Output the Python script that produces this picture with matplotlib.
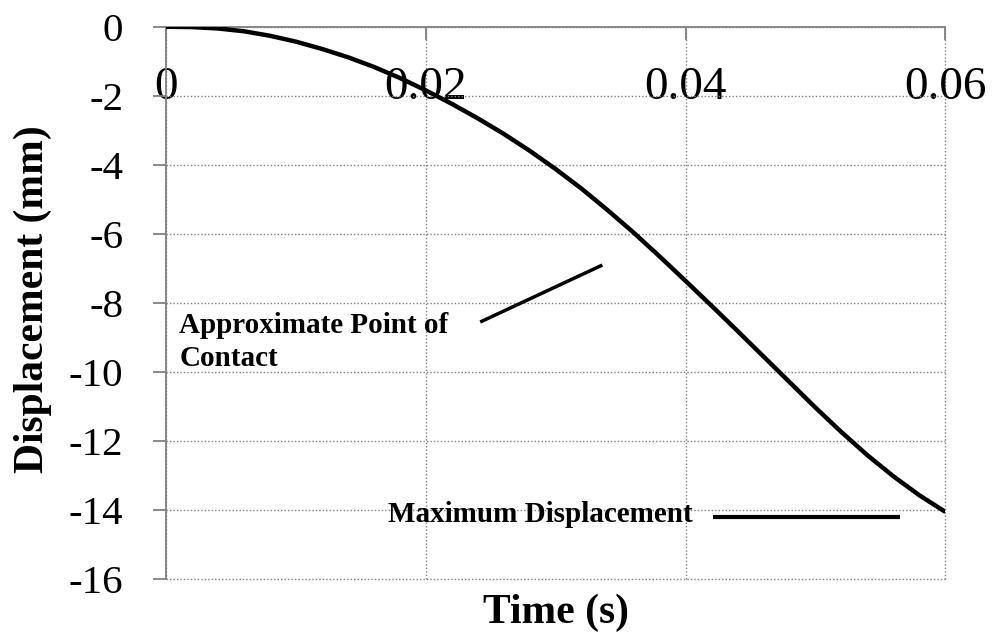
import matplotlib
matplotlib.use('Agg')
import matplotlib.pyplot as plt

# ---- data ----
time_s = [0.000, 0.002, 0.004, 0.006, 0.008, 0.010, 0.012, 0.014, 0.016, 0.018,
          0.020, 0.022, 0.024, 0.026, 0.028, 0.030, 0.032, 0.034, 0.036, 0.038,
          0.040, 0.042, 0.044, 0.046, 0.048, 0.050, 0.052, 0.054, 0.056, 0.058,
          0.060]
disp_mm = [0.00, -0.01, -0.05, -0.13, -0.26, -0.43, -0.64, -0.88, -1.16, -1.48,
           -1.84, -2.23, -2.65, -3.10, -3.59, -4.12, -4.69, -5.31, -5.96, -6.65,
           -7.36, -8.08, -8.81, -9.55, -10.29, -11.03, -11.74, -12.41, -13.02, -13.57,
           -14.05]

x_ticks = [0, 0.02, 0.04, 0.06]
x_tick_labels = ['0', '0.02', '0.04', '0.06']
y_ticks = [-16, -14, -12, -10, -8, -6, -4, -2, 0]
y_tick_labels = ['-16', '-14', '-12', '-10', '-8', '-6', '-4', '-2', '0']

contact_label = 'Approximate Point of\nContact'
contact_line_x = [0.0242, 0.0336]
contact_line_y = [-8.55, -6.90]
contact_text_xy = (0.00105, -8.25)

max_label = 'Maximum Displacement'
max_line_x = [0.0421, 0.0565]
max_line_y = [-14.21, -14.21]
max_text_xy = (0.0171, -14.12)

x_label = 'Time (s)'
y_label = 'Displacement (mm)'

# ---- figure ----
plt.rcParams['font.family'] = ['Liberation Serif', 'DejaVu Serif']
fig = plt.figure(figsize=(9.94, 6.35), dpi=100)
ax = fig.add_axes([0.1667, 0.0877, 0.7845, 0.8702])

gray = '#808080'
ax.plot(time_s, disp_mm, color='black', lw=3.2, solid_capstyle='butt',
        solid_joinstyle='round', zorder=3)

ax.plot(contact_line_x, contact_line_y, color='black', lw=2.5, solid_capstyle='butt', zorder=3)
ax.plot(max_line_x, max_line_y, color='black', lw=3.0, solid_capstyle='butt', zorder=3)

ax.text(contact_text_xy[0], contact_text_xy[1], contact_label, fontsize=21,
        fontweight='bold', ha='left', va='top', linespacing=1.3, zorder=4)
ax.text(max_text_xy[0], max_text_xy[1], max_label, fontsize=21,
        fontweight='bold', ha='left', va='center', zorder=4)

ax.set_xlim(0, 0.06)
ax.set_ylim(-16, 0)
ax.set_xticks(x_ticks)
ax.set_xticklabels(x_tick_labels)
ax.set_yticks(y_ticks)
ax.set_yticklabels(y_tick_labels)

ax.spines['right'].set_visible(False)
ax.spines['top'].set_visible(False)
ax.spines['bottom'].set_position(('data', 0))
for s in ('left', 'bottom'):
    ax.spines[s].set_color(gray)
    ax.spines[s].set_linewidth(1.3)
    ax.spines[s].set_zorder(2.5)

ax.grid(True, color=gray, lw=1.0, linestyle=(0, (1, 1.5)), zorder=0)
ax.set_axisbelow(True)
for gl in ax.get_xgridlines() + ax.get_ygridlines():
    gl.set_clip_on(False)

ax.tick_params(axis='x', direction='out', length=9.5, width=1.3, color=gray,
               pad=19, labelsize=34, labelcolor='black')
ax.tick_params(axis='y', direction='out', length=9.5, width=1.3, color=gray,
               pad=21, labelsize=29.5, labelcolor='black')

ax.set_xlabel(x_label, fontsize=30, fontweight='bold', va='baseline')
ax.xaxis.set_label_coords(0.5, -0.079)
ax.set_ylabel(y_label, fontsize=30, fontweight='bold', va='center')
ax.yaxis.set_label_coords(-0.170, 0.507)

fig.savefig('out.png', dpi=100)
